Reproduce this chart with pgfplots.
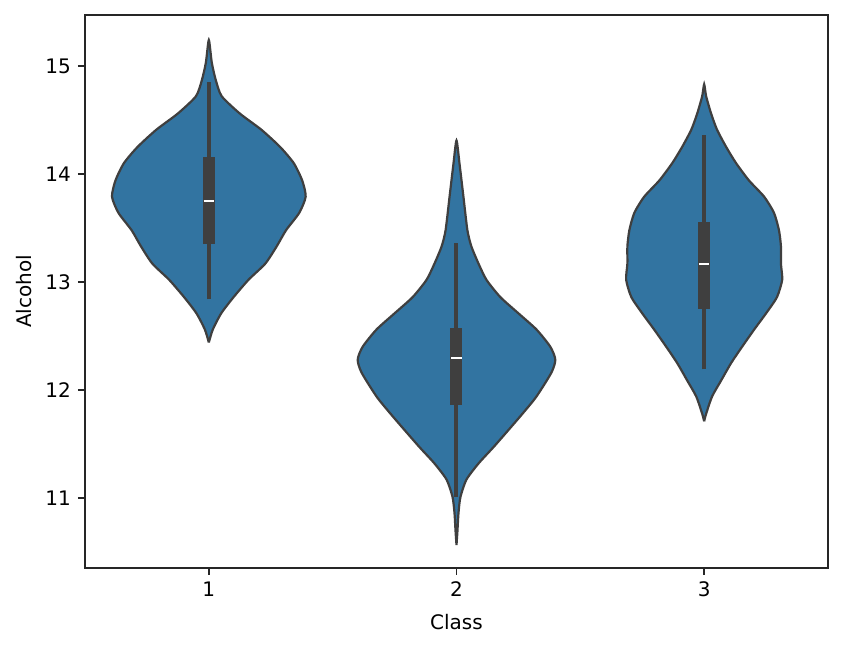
\documentclass[border=0pt]{standalone}
\usepackage{pgfplots}
\pgfplotsset{compat=1.18}
\usepackage{fontspec}
\setmainfont{DejaVu Sans}
\definecolor{vfill}{RGB}{50,116,161}
\definecolor{vedge}{RGB}{63,63,63}
\definecolor{axc}{RGB}{38,38,38}
\begin{document}
\begin{tikzpicture}
\useasboundingbox (-42.5pt,-40.5pt) rectangle (379pt,284pt);
\begin{axis}[
  at={(0,0)}, anchor=south west,
  scale only axis, width=371.5pt, height=276.5pt,
  xmin=0.5, xmax=3.5, ymin=10.352, ymax=15.472,
  xtick={1,2,3}, ytick={11,12,13,14,15},
  xtick pos=bottom, ytick pos=left,
  tick align=outside, major tick length=3.5pt,
  tick style={axc, line width=0.8pt},
  axis line style={axc, line width=0.8pt},
  every tick label/.style={font=\fontsize{10}{12}\selectfont, text=black},
  /pgf/number format/assume math mode=true,
  xlabel={Class}, ylabel={Alcohol},
  label style={font=\fontsize{10}{12}\selectfont},
  xlabel style={at={(axis description cs:0.5,0)}, anchor=north, yshift=-19.5pt},
  ylabel style={at={(axis description cs:0,0.5)}, anchor=south, yshift=23pt},
  clip=false,
]
% violin 1
\addplot[fill=vfill, draw=vedge, line width=1.1pt, smooth, tension=0.4] coordinates {
(1,12.44) (1.016,12.56) (1.050,12.71) (1.100,12.86) (1.160,13.02) (1.228,13.17) (1.274,13.33) (1.312,13.48) (1.365,13.64) (1.391,13.79) (1.377,13.94) (1.343,14.10) (1.288,14.25) (1.212,14.41) (1.125,14.56) (1.052,14.72) (1.028,14.87) (1.012,15.03) (1,15.24)
(0.988,15.03) (0.972,14.87) (0.948,14.72) (0.875,14.56) (0.788,14.41) (0.712,14.25) (0.657,14.10) (0.623,13.94) (0.609,13.79) (0.635,13.64) (0.688,13.48) (0.726,13.33) (0.772,13.17) (0.840,13.02) (0.900,12.86) (0.950,12.71) (0.984,12.56) (1,12.44)
};
% violin 2
\addplot[fill=vfill, draw=vedge, line width=1.1pt, smooth, tension=0.4] coordinates {
(2,10.565) (2.004,10.70) (2.008,10.86) (2.016,11.01) (2.040,11.17) (2.089,11.32) (2.149,11.47) (2.210,11.63) (2.270,11.79) (2.323,11.94) (2.383,12.16) (2.399,12.28) (2.379,12.40) (2.323,12.56) (2.250,12.71) (2.177,12.86) (2.121,13.02) (2.089,13.17) (2.060,13.33) (2.044,13.48) (2.028,13.79) (2.012,14.10) (2,14.31)
(1.988,14.10) (1.972,13.79) (1.956,13.48) (1.940,13.33) (1.911,13.17) (1.879,13.02) (1.823,12.86) (1.750,12.71) (1.677,12.56) (1.621,12.40) (1.601,12.28) (1.617,12.16) (1.677,11.94) (1.730,11.79) (1.790,11.63) (1.851,11.47) (1.911,11.32) (1.960,11.17) (1.984,11.01) (1.992,10.86) (1.996,10.70) (2,10.565)
};
% violin 3
\addplot[fill=vfill, draw=vedge, line width=1.1pt, smooth, tension=0.4] coordinates {
(3,11.71) (3.008,11.78) (3.032,11.94) (3.069,12.09) (3.109,12.25) (3.153,12.40) (3.202,12.56) (3.250,12.71) (3.294,12.86) (3.315,13.02) (3.310,13.17) (3.310,13.33) (3.302,13.48) (3.282,13.64) (3.242,13.79) (3.181,13.94) (3.129,14.10) (3.089,14.25) (3.052,14.41) (3.028,14.56) (3.008,14.72) (3,14.83)
(2.992,14.72) (2.972,14.56) (2.948,14.41) (2.911,14.25) (2.871,14.10) (2.819,13.94) (2.758,13.79) (2.718,13.64) (2.698,13.48) (2.690,13.33) (2.690,13.17) (2.685,13.02) (2.706,12.86) (2.750,12.71) (2.798,12.56) (2.847,12.40) (2.891,12.25) (2.931,12.09) (2.968,11.94) (2.992,11.78) (3,11.71)
};
% whiskers
\addplot[vedge, line width=2pt] coordinates {(1,12.84) (1,14.85)};
\addplot[vedge, line width=2pt] coordinates {(2,11.01) (2,13.36)};
\addplot[vedge, line width=2pt] coordinates {(3,12.19) (3,14.36)};
% boxes
\addplot[vedge, line width=6pt] coordinates {(1,13.35) (1,14.16)};
\addplot[vedge, line width=6pt] coordinates {(2,11.86) (2,12.57)};
\addplot[vedge, line width=6pt] coordinates {(3,12.75) (3,13.56)};
% medians
\addplot[white, line width=1pt] coordinates {(0.979,13.75) (1.021,13.75)};
\addplot[white, line width=1pt] coordinates {(1.979,12.30) (2.021,12.30)};
\addplot[white, line width=1pt] coordinates {(2.979,13.17) (3.021,13.17)};
\end{axis}
\end{tikzpicture}
\end{document}
